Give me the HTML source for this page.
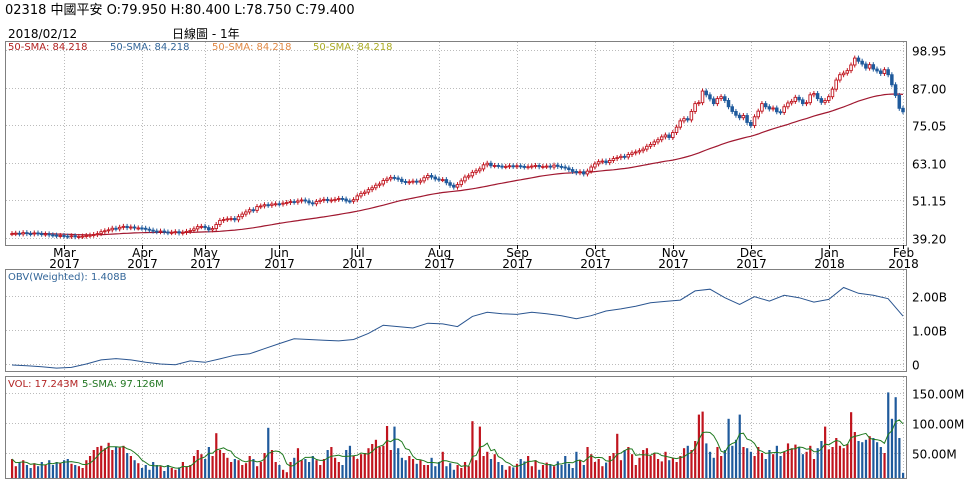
<!DOCTYPE html>
<html><head><meta charset="utf-8"><style>
body{margin:0;background:#fff;width:970px;height:482px;overflow:hidden;font-family:"DejaVu Sans","Noto Sans CJK TC",sans-serif;}
svg text{font-family:"DejaVu Sans","Noto Sans CJK TC",sans-serif;}
</style></head><body>
<svg id="c" width="970" height="482" xmlns="http://www.w3.org/2000/svg">
<text x="5" y="14" font-size="13" fill="#000">02318  中國平安  O:79.950  H:80.400  L:78.750   C:79.400</text>
<text x="8" y="38" font-size="12" fill="#000">2018/02/12</text>
<text x="172" y="38" font-size="12" fill="#000">日線圖 - 1年</text>
<g id="grid"></g>
<g id="marks"></g>
<rect x="5.5" y="41.5" width="901" height="204" fill="none" stroke="#000" stroke-dasharray="1,1"/>
<rect x="5.5" y="269.5" width="901" height="102" fill="none" stroke="#000" stroke-dasharray="1,1"/>
<rect x="5.5" y="376.5" width="901" height="102" fill="none" stroke="#000" stroke-dasharray="1,1"/>
<g font-size="10">
<text x="8" y="50" fill="#b22222">50-SMA: 84.218</text>
<text x="110" y="50" fill="#336699">50-SMA: 84.218</text>
<text x="212" y="50" fill="#e08844">50-SMA: 84.218</text>
<text x="313" y="50" fill="#aaaa22">50-SMA: 84.218</text>
</g>
<text x="8" y="280" font-size="10" fill="#336699">OBV(Weighted): 1.408B</text>
<text x="8" y="387" font-size="10" fill="#b22222">VOL: 17.243M</text>
<text x="82" y="387" font-size="10" fill="#227722">5-SMA: 97.126M</text>
</svg>
<script>
const closes=[40.6,40.7,40.5,40.9,40.6,40.5,40.8,40.6,40.4,40.5,40.2,40.1,39.9,40.0,
39.8,39.7,39.9,39.6,39.7,39.8,40.0,40.1,40.3,40.6,41.2,41.5,41.8,42.3,42.1,42.6,42.9,42.5,42.7,42.4,42.4,
42.3,42.0,41.7,41.4,41.2,41.4,41.1,40.9,41.0,41.2,40.8,41.0,41.3,41.6,42.1,42.8,42.9,
42.5,41.8,42.2,43.5,44.8,45.1,45.3,45.4,45.0,46.0,46.8,47.5,48.2,48.0,49.2,49.4,49.8,49.6,50.0,50.1,
50.0,50.3,50.5,50.8,50.6,51.0,51.3,51.0,50.4,50.1,50.8,51.2,51.5,51.1,51.3,51.5,51.8,51.6,51.0,50.9,51.4,
52.6,53.4,53.8,54.6,55.2,56.0,56.4,57.5,58.0,58.5,58.3,57.9,57.2,56.9,57.1,57.3,57.0,57.4,58.4,59.1,58.6,58.0,
57.8,57.8,56.8,56.0,55.4,56.2,57.4,58.6,59.0,60.1,60.6,61.2,62.5,63.0,62.2,62.3,62.1,61.9,62.0,62.2,62.0,
62.2,62.0,61.8,61.9,62.1,62.3,61.9,62.0,62.1,61.8,62.4,62.0,61.8,61.5,61.0,60.4,60.0,60.3,59.6,60.5,61.8,
62.8,63.5,63.7,63.2,63.9,64.5,64.8,65.2,65.0,65.8,66.3,66.6,67.0,67.5,68.4,69.0,69.8,70.5,71.4,72.0,71.2,
72.8,74.5,76.5,77.2,76.8,79.5,82.0,82.3,86.0,84.8,83.5,82.0,83.6,84.2,83.0,81.0,79.5,78.3,77.5,78.2,76.0,
75.0,77.8,79.6,82.0,81.0,80.3,80.6,79.4,79.2,81.0,82.2,82.7,84.0,83.2,82.0,82.3,84.8,85.2,83.6,82.4,83.0,
84.2,86.6,89.5,91.2,91.7,92.5,94.3,96.5,95.5,94.6,93.3,94.4,93.0,92.4,91.6,92.8,91.2,88.0,84.6,80.5,79.4];
const volumes=[40,28,35,38,30,25,33,28,35,30,38,30,35,33,38,40,32,30,28,25,
38,45,55,60,62,58,67,55,60,59,62,50,45,38,33,25,30,22,35,30,
28,20,30,25,22,26,35,28,30,45,55,48,40,60,45,83,55,50,42,35,
40,38,30,33,45,40,28,35,50,92,55,35,30,22,18,35,42,58,38,40,
35,45,38,30,40,55,60,42,35,30,55,62,45,40,48,50,58,65,72,60,
62,95,55,94,58,42,38,45,40,32,38,30,30,42,28,35,52,28,33,22,
30,25,35,28,103,38,94,45,52,40,48,35,30,22,28,26,32,40,36,45,
28,38,22,30,34,30,28,36,30,45,32,25,52,38,30,60,48,35,40,28,
34,45,50,82,38,55,60,48,30,42,55,58,45,50,40,36,52,38,42,35,
45,58,62,55,70,114,119,66,52,42,60,45,55,107,62,72,114,60,58,52,
45,60,50,40,55,48,62,45,52,66,58,64,60,48,52,62,40,58,70,94,
56,60,75,62,58,65,118,85,70,68,72,78,75,68,60,50,151,107,143,75,17];
const obv=[-0.03,-0.05,-0.08,-0.12,-0.1,0.0,0.12,0.16,0.12,0.05,0.0,-0.02,0.09,0.05,0.15,0.26,0.3,0.45,0.6,0.74,0.72,0.7,0.68,0.72,0.9,1.14,1.1,1.06,1.2,1.18,1.1,1.4,1.52,1.48,1.46,1.52,1.48,1.42,1.33,1.42,1.56,1.62,1.7,1.8,1.84,1.88,2.15,2.2,1.95,1.75,1.98,1.85,2.02,1.95,1.82,1.9,2.25,2.08,2.02,1.92,1.41];
const priceTicks=["98.95","87.00","75.05","63.10","51.15","39.20"];
const obvTicks=["2.00B","1.00B","0"];
const volTicks=["150.00M","100.00M","50.00M"];
const monthLabels=["Mar","Apr","May","Jun","Jul","Aug","Sep","Oct","Nov","Dec","Jan","Feb"];
const yearLabels=["2017","2017","2017","2017","2017","2017","2017","2017","2017","2017","2018","2018"];
const monthIdx=[14,35,52,72,93,115,136,157,178,199,220,240];

const NS="http://www.w3.org/2000/svg";
const X0=12,X1=903;
const N=closes.length;
const xi=i=>X0+i*(X1-X0)/(N-1);
const yP=p=>238-(p-39.2)*3.14;
const yO=v=>364-v*34;
const yV=v=>483-v*0.6;
const grid=document.getElementById('grid'),marks=document.getElementById('marks');
function mk(tag,attrs,parent){const e=document.createElementNS(NS,tag);for(const k in attrs)e.setAttribute(k,attrs[k]);parent.appendChild(e);return e;}

priceTicks.forEach(t=>{const y=Math.round(yP(parseFloat(t)))+0.5;
 const l=mk('line',{x1:6,x2:906,y1:y,y2:y,stroke:'#bbb','stroke-dasharray':'1,2'},grid);
 
 
 const tx=mk('text',{x:912,y:y+5,'font-size':12,fill:'#000'},grid);tx.textContent=t;
 
 });
obvTicks.forEach(t=>{const v=parseFloat(t);const y=Math.round(yO(v))+0.5;
 const l=mk('line',{x1:6,x2:906,y1:y,y2:y,stroke:'#bbb','stroke-dasharray':'1,2'},grid);
 
 
 const tx=mk('text',{x:912,y:y+5,'font-size':12,fill:'#000'},grid);tx.textContent=t;
 
 });
volTicks.forEach(t=>{const v=parseFloat(t);const y=Math.round(yV(v))+0.5;
 const l=mk('line',{x1:6,x2:906,y1:y,y2:y,stroke:'#bbb','stroke-dasharray':'1,2'},grid);
 
 
 const tx=mk('text',{x:912,y:y+5,'font-size':12,fill:'#000'},grid);tx.textContent=t;
 
 });
monthIdx.forEach((mi,k)=>{const x=Math.round(xi(mi))+0.5;
 [[42,245],[270,371],[377,478]].forEach(r=>{const l=mk('line',{x1:x,x2:x,y1:r[0],y2:r[1],stroke:'#bbb','stroke-dasharray':'1,2'},grid);
  
  });
 const tk=mk('line',{x1:x,x2:x,y1:245,y2:249,stroke:'#000'},grid);
 
 
 const a=mk('text',{x:x,y:257,'font-size':12,'text-anchor':'middle',fill:'#000'},grid);a.textContent=monthLabels[k];
 
 
 const b=mk('text',{x:x,y:268,'font-size':12,'text-anchor':'middle',fill:'#000'},grid);b.textContent=yearLabels[k];
 
 });

let pts=[];
for(let i=0;i<N;i++){const s=Math.max(0,i-49);let sum=0;for(let j=s;j<=i;j++)sum+=closes[j];pts.push(xi(i).toFixed(1)+','+yP(sum/(i-s+1)).toFixed(1));}
const sma=mk('polyline',{points:pts.join(' '),fill:'none',stroke:'#a01830','stroke-width':1.2},marks);



for(let i=0;i<N;i++){const c=closes[i],o=i?closes[i-1]:c;const up=c>=o;const col=up?'#c0141e':'#1f5a9c';const x=xi(i);
 const hi=Math.max(o,c)+0.8,lo=Math.min(o,c)-0.8;
 const w=mk('line',{x1:x,x2:x,y1:yP(hi),y2:yP(lo),stroke:col},marks);
 
 
 const t=yP(Math.max(o,c)),h=Math.max(1,yP(Math.min(o,c))-t);
 const r=mk('rect',{x:x-1.3,y:t,width:2.6,height:h,fill:up?'#fff':col,stroke:col,'stroke-width':0.9},marks);
 
 }

const M=obv.length;let op=[];
obv.forEach((v,j)=>op.push((X0+j*(X1-X0)/(M-1)).toFixed(1)+','+yO(v).toFixed(1)));
const ol=mk('polyline',{points:op.join(' '),fill:'none',stroke:'#2a5590','stroke-width':1},marks);



for(let i=0;i<volumes.length;i++){const up=i===0||closes[i]>=closes[i-1];const x=xi(i);const y=Math.max(378,yV(volumes[i]));
 const b=mk('rect',{x:x-1,y:y,width:2.2,height:Math.max(0,478-y),fill:up?'#c0141e':'#1f5a9c'},marks);
 
 }
let vp=[];
for(let i=0;i<volumes.length;i++){const s=Math.max(0,i-4);let sum=0;for(let j=s;j<=i;j++)sum+=volumes[j];vp.push(xi(i).toFixed(1)+','+yV(sum/(i-s+1)).toFixed(1));}
const vl=mk('polyline',{points:vp.join(' '),fill:'none',stroke:'#1f7a1f','stroke-width':1},marks);


</script>
</body></html>
